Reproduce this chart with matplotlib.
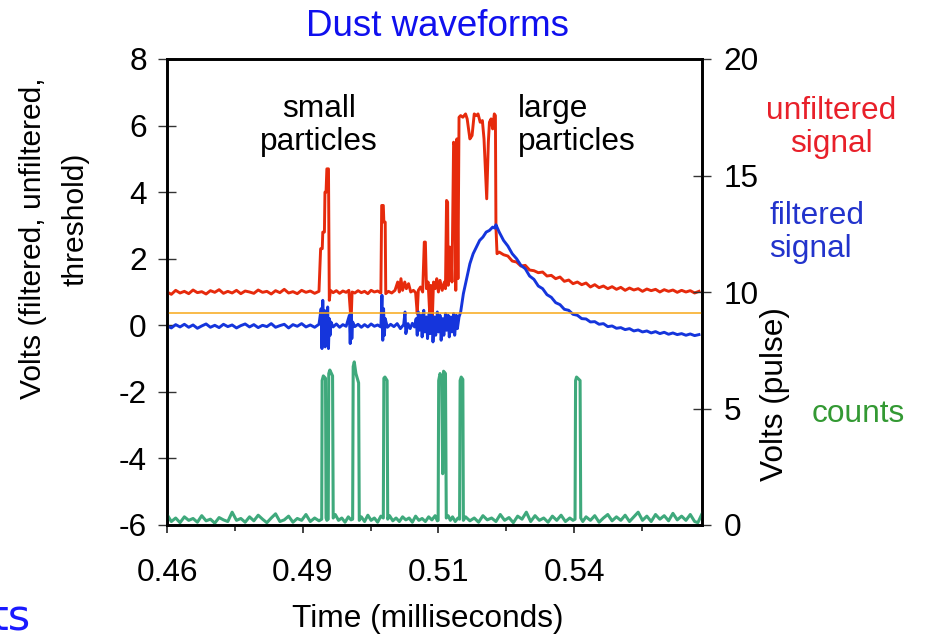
import matplotlib
matplotlib.use("Agg")
import matplotlib.pyplot as plt

plt.rcParams['font.family'] = ['Liberation Sans', 'DejaVu Sans']
plt.rcParams['axes.unicode_minus'] = False

# ---------------- data (time in ms) ----------------
base_t = [0.4600, 0.4608, 0.4616, 0.4624, 0.4632, 0.4640, 0.4648, 0.4656, 0.4664, 0.4672,
          0.4680, 0.4688, 0.4696, 0.4704, 0.4712, 0.4720, 0.4728, 0.4736, 0.4744, 0.4752,
          0.4760, 0.4768, 0.4776, 0.4784, 0.4792, 0.4800, 0.4808, 0.4816, 0.4824, 0.4832,
          0.4840, 0.4848, 0.4856, 0.4864, 0.4872, 0.4880]
tail_t = [0.5212, 0.5220, 0.5228, 0.5236, 0.5244, 0.5252, 0.5260, 0.5268, 0.5276, 0.5284,
          0.5292, 0.5300, 0.5308, 0.5316, 0.5324, 0.5332, 0.5340, 0.5348, 0.5356, 0.5364,
          0.5372, 0.5380, 0.5388, 0.5396, 0.5404, 0.5412, 0.5420, 0.5428, 0.5436, 0.5444,
          0.5452, 0.5460, 0.5468, 0.5476, 0.5484, 0.5492, 0.5500, 0.5508, 0.5516, 0.5524,
          0.5532, 0.5540, 0.5548, 0.5556, 0.5564, 0.5572, 0.5580]

# unfiltered signal (left axis, volts)
red_t = base_t + [
    0.48830, 0.48860, 0.48870, 0.48900, 0.48910, 0.48930, 0.48945, 0.48975, 0.48990, 0.49010,
    0.4906, 0.4912, 0.4918, 0.4924, 0.4930, 0.4935, 0.49385, 0.49395, 0.4941, 0.4946,
    0.4952, 0.4958, 0.4964, 0.4970, 0.4976, 0.4982, 0.4988, 0.4994,
    0.49955, 0.49985, 0.49995, 0.50020, 0.50030, 0.5008, 0.5014, 0.5020,
    0.5025, 0.5028, 0.5031, 0.5034, 0.5038, 0.5041, 0.5045, 0.5049, 0.5054, 0.5058,
    0.5061, 0.5063, 0.5067, 0.5071, 0.5074, 0.5076, 0.5078, 0.5081,
    0.5084, 0.5086, 0.5089, 0.5091, 0.5094, 0.5097, 0.5100, 0.5103, 0.5107, 0.5111, 0.5113,
    0.5115, 0.5117, 0.5118, 0.5121, 0.5123, 0.5125,
    0.5128, 0.5130, 0.5132, 0.5134, 0.5136, 0.5138,
    0.5141, 0.5145, 0.5150, 0.5153, 0.5158, 0.5162, 0.5166, 0.5170, 0.5173, 0.5177,
    0.5181, 0.5184, 0.5187, 0.5189, 0.5192, 0.5194, 0.5197, 0.5200, 0.5203, 0.5205,
    0.5206, 0.5208] + tail_t
red_v = [1.00, 0.93, 1.05, 0.97, 1.02, 0.95, 1.06, 0.98, 1.01, 0.94,
         1.04, 0.99, 1.07, 0.96, 1.02, 0.97, 1.05, 0.95, 1.03, 1.00,
         0.96, 1.06, 0.99, 1.02, 0.94, 1.04, 0.98, 1.08, 0.97, 1.01,
         0.95, 1.05, 0.99, 1.03, 0.96, 1.02,
         2.3, 2.3, 2.8, 2.8, 4.0, 4.0, 4.7, 4.7, 0.75, 1.05,
         0.98, 1.04, 0.96, 1.03, 0.99, 1.05, 0.25, 0.30, 1.00, 0.97,
         1.04, 0.98, 1.02, 0.95, 1.05, 1.00, 1.03, 0.97,
         3.6, 3.6, 3.1, 3.1, 0.95, 1.02, 0.97, 1.05,
         1.3, 1.0, 1.4, 1.05, 1.3, 1.1, 1.25, 1.0, 1.05, 0.98,
         0.35, 1.05, 1.15, 1.0, 2.5, 2.5, 1.1, 1.3,
         0.35, 1.2, 0.3, 1.3, 1.1, 1.4, 1.0, 1.35, 1.05, 1.3, 1.1,
         3.75, 3.7, 1.2, 2.35, 2.3, 1.3,
         5.5, 5.4, 1.05, 5.6, 1.4, 6.25,
         6.3, 6.25, 6.35, 6.2, 5.6, 5.7, 6.35, 6.3, 6.35, 6.1,
         6.15, 5.6, 4.5, 3.8, 5.5, 6.1, 6.2, 5.9, 6.35, 6.3,
         2.95, 2.15,
         2.20, 2.12, 2.08, 1.93, 1.90, 1.78, 1.80, 1.66, 1.64, 1.58,
         1.60, 1.48, 1.50, 1.40, 1.45, 1.32, 1.36, 1.25, 1.30, 1.22,
         1.27, 1.15, 1.22, 1.13, 1.18, 1.10, 1.16, 1.08, 1.14, 1.05,
         1.12, 1.06, 1.10, 1.02, 1.09, 1.04, 1.08, 1.00, 1.07, 1.02,
         1.06, 0.99, 1.05, 1.00, 1.04, 0.97, 1.02]

# filtered signal (left axis, volts)
blue_t = base_t + [
    0.48840, 0.48855, 0.48870, 0.48885, 0.48900, 0.48915, 0.48930, 0.48945, 0.48960, 0.48975,
    0.48990, 0.49005, 0.4902, 0.4906, 0.4912, 0.4918, 0.4924, 0.4930,
    0.4936, 0.49375, 0.4939, 0.49405, 0.4942, 0.4946, 0.4952, 0.4958, 0.4964, 0.4970,
    0.4976, 0.4982, 0.4988, 0.4994,
    0.49960, 0.49975, 0.49990, 0.50005, 0.5002, 0.5006, 0.5012, 0.5018, 0.5024,
    0.5030, 0.5036, 0.50385, 0.5040, 0.5044, 0.5048, 0.5052, 0.5056,
    0.5059, 0.5061, 0.5063, 0.5065, 0.5068, 0.5070, 0.5073, 0.5075, 0.5078, 0.5080,
    0.5083, 0.5085, 0.5088, 0.5090, 0.5093, 0.5095, 0.5098, 0.5100, 0.5103, 0.5105,
    0.5108, 0.5110, 0.5113, 0.5115, 0.5118, 0.5120, 0.5123, 0.5125, 0.5128, 0.5130,
    0.5133, 0.5135, 0.5138,
    0.5141, 0.5146, 0.5152, 0.5158, 0.5164, 0.5170, 0.5176, 0.5182, 0.5188, 0.5194,
    0.5200, 0.5204, 0.5206] + tail_t
blue_v = [-0.02, -0.08, 0.02, -0.05, 0.03, -0.06, 0.01, -0.09, -0.02, 0.04,
          -0.06, 0.00, -0.07, 0.03, -0.04, 0.01, -0.08, -0.01, 0.04, -0.05,
          0.02, -0.07, 0.00, -0.04, 0.05, -0.06, -0.01, 0.03, -0.08, 0.02,
          -0.03, 0.05, -0.05, 0.01, -0.06, 0.03,
          0.5, -0.7, 0.75, -0.6, 0.45, -0.65, 0.3, -0.5, 0.55, -0.7,
          0.2, -0.3, 0.1, -0.05, 0.04, -0.06, 0.02, -0.03,
          0.3, -0.55, 0.35, -0.4, 0.1, -0.04, 0.03, -0.06, 0.02, -0.05,
          0.04, -0.03, 0.01, -0.05,
          0.9, -0.45, 0.5, -0.3, 0.2, -0.06, 0.03, -0.04, 0.05,
          -0.1, 0.02, 0.4, -0.25, 0.05, -0.1, 0.06, -0.05,
          0.2, -0.3, 0.4, -0.15, 0.3, -0.35, 0.45, -0.2, 0.25, -0.4,
          0.35, -0.25, 0.3, -0.5, 0.25, -0.3, 0.4, -0.2, 0.3, -0.45,
          0.2, -0.3, 0.35, -0.15, 0.3, -0.35, 0.25, -0.2, 0.35, -0.3,
          0.3, -0.1, 0.25,
          0.40, 0.95, 1.40, 1.85, 2.15, 2.35, 2.55, 2.65, 2.80, 2.85,
          2.95, 2.92, 3.02,
          2.80, 2.55, 2.38, 2.15, 2.00, 1.80, 1.70, 1.48, 1.38, 1.18,
          1.10, 0.92, 0.84, 0.68, 0.62, 0.48, 0.45, 0.33, 0.30, 0.20,
          0.19, 0.10, 0.11, 0.03, 0.05, -0.04, -0.02, -0.09, -0.07, -0.13,
          -0.10, -0.17, -0.14, -0.20, -0.17, -0.23, -0.19, -0.25, -0.21, -0.27,
          -0.23, -0.28, -0.25, -0.30, -0.26, -0.31, -0.28]

# threshold (left axis, volts)
threshold = 0.37

# counts (right axis, pulse volts)
green_t = base_t + [
    0.48850, 0.48858, 0.48880, 0.48920, 0.48930, 0.48945,
    0.48970, 0.48980, 0.49000, 0.49050, 0.49062,
    0.4910, 0.4916, 0.4922, 0.4928, 0.4934, 0.4939,
    0.49420, 0.49430, 0.49450, 0.49480, 0.49530, 0.49542,
    0.4958, 0.4964, 0.4970, 0.4976, 0.4982, 0.4988, 0.4994,
    0.49985, 0.49995, 0.50015, 0.50055, 0.50066,
    0.5010, 0.5016, 0.5022, 0.5028, 0.5034, 0.5040, 0.5046, 0.5052, 0.5058, 0.5064,
    0.5070, 0.5076, 0.5082, 0.5088, 0.5094, 0.5098,
    0.50995, 0.51005, 0.51030, 0.51060, 0.51079, 0.51095, 0.51130, 0.51145,
    0.5118, 0.5122, 0.5126, 0.5131, 0.5136,
    0.51390, 0.51400, 0.51420, 0.51450, 0.51460,
    0.5150, 0.5158, 0.5166, 0.5174, 0.5182, 0.5190, 0.5198, 0.5206, 0.5214, 0.5222,
    0.5230, 0.5238, 0.5246, 0.5254, 0.5262, 0.5270, 0.5278, 0.5286, 0.5294, 0.5302,
    0.5310, 0.5318, 0.5326, 0.5334, 0.5342, 0.5348,
    0.53517, 0.53527, 0.53545, 0.53610, 0.53622,
    0.5366, 0.5372, 0.5380, 0.5388, 0.5396, 0.5404, 0.5412, 0.5420, 0.5428, 0.5436,
    0.5444, 0.5452, 0.5460, 0.5468, 0.5476, 0.5484, 0.5492, 0.5500, 0.5508, 0.5516,
    0.5524, 0.5532, 0.5540, 0.5548, 0.5556, 0.5564, 0.5572, 0.5578, 0.5586]
green_v = [0.45, 0.15, 0.30, 0.10, 0.35, 0.20, 0.28, 0.12, 0.40, 0.18,
           0.25, 0.08, 0.32, 0.22, 0.15, 0.55, 0.20, 0.28, 0.12, 0.35,
           0.18, 0.42, 0.25, 0.10, 0.30, 0.48, 0.15, 0.22, 0.38, 0.12,
           0.28, 0.20, 0.45, 0.15, 0.30, 0.18,
           0.25, 6.2, 6.4, 6.3, 0.3, 0.2,
           0.25, 6.5, 6.65, 6.4, 0.3,
           0.45, 0.2, 0.3, 0.12, 0.35, 0.22,
           0.25, 6.8, 7.0, 6.5, 6.1, 0.2,
           0.35, 0.15, 0.42, 0.2, 0.3, 0.12, 0.38,
           0.3, 6.3, 6.35, 6.2, 0.25,
           0.4, 0.18, 0.3, 0.15, 0.35, 0.22, 0.3, 0.12, 0.38, 0.2,
           0.28, 0.15, 0.35, 0.22, 0.4, 0.18,
           0.2, 6.2, 6.5, 6.3, 2.2, 6.6, 6.5, 0.3,
           0.4, 0.2, 0.35, 0.15, 0.3,
           0.25, 6.2, 6.35, 6.25, 0.2,
           0.35, 0.18, 0.3, 0.12, 0.4, 0.22, 0.3, 0.15, 0.45, 0.2,
           0.32, 0.1, 0.38, 0.25, 0.55, 0.15, 0.4, 0.2, 0.3, 0.12,
           0.38, 0.2, 0.42, 0.15, 0.3, 0.2,
           0.25, 6.2, 6.35, 6.2, 0.3,
           0.15, 0.35, 0.2, 0.4, 0.12, 0.3, 0.45, 0.18, 0.35, 0.2,
           0.42, 0.15, 0.35, 0.55, 0.2, 0.38, 0.15, 0.45, 0.25, 0.4,
           0.18, 0.5, 0.22, 0.38, 0.2, 0.45, 0.15, 0.1, 0.5]

assert len(red_t) == len(red_v), (len(red_t), len(red_v))
assert len(blue_t) == len(blue_v), (len(blue_t), len(blue_v))
assert len(green_t) == len(green_v), (len(green_t), len(green_v))

x_ticks = [0.46, 0.485, 0.51, 0.535]
x_tick_labels = ['0.46', '0.49', '0.51', '0.54']
x_minor = [0.4725, 0.4975, 0.5225, 0.5475]
left_ticks = [-6, -4, -2, 0, 2, 4, 6, 8]
right_ticks = [0, 5, 10, 15, 20]

# ---------------- figure ----------------
W, H = 926, 634
fig = plt.figure(figsize=(W / 100, H / 100), dpi=100)
fig.patch.set_facecolor('white')

def fx(px):
    return px / W

def fy(py):
    return 1 - py / H

L, R, T, B = 167, 702, 59, 525
ax = fig.add_axes([fx(L), fy(B), (R - L) / W, (B - T) / H])
ax2 = ax.twinx()

RED = '#e62a0c'
BLUE = '#1535dc'
GREEN = '#3fa97c'
ORANGE = '#f8a818'

ax.plot(red_t, red_v, color=RED, lw=2.1, zorder=3)
ax.plot(blue_t, blue_v, color=BLUE, lw=2.1, zorder=4)
ax.axhline(threshold, color=ORANGE, lw=1.1, zorder=5)
ax2.plot(green_t, green_v, color=GREEN, lw=2.2)

ax.set_xlim(0.46, 0.55856)
ax.set_ylim(-6, 8)
ax2.set_ylim(0, 20)

FS = 22.8
ax.set_xticks(x_ticks)
ax.set_xticklabels(x_tick_labels)
ax.set_xticks(x_minor, minor=True)
ax.tick_params(axis='x', which='major', direction='out', length=6, width=1.2,
               pad=18, labelsize=FS, color='#222222')
ax.tick_params(axis='x', which='minor', direction='out', length=4, width=1.2,
               color='#222222')
ax.set_yticks(left_ticks)
ax.set_yticklabels([str(v) for v in left_ticks])
ax.tick_params(axis='y', direction='inout', length=13, width=1.0, pad=8,
               labelsize=FS, color='#333333')
ax2.set_yticks(right_ticks)
ax2.set_yticklabels([str(v) for v in right_ticks])
ax2.tick_params(axis='y', direction='inout', length=13, width=1.0, pad=9,
                labelsize=FS, color='#333333')

for a in (ax, ax2):
    for sp in a.spines.values():
        sp.set_linewidth(1.9)
        sp.set_color('black')

# axis labels
ax.set_xlabel('Time (milliseconds)', fontsize=FS, va='baseline')
ax.xaxis.set_label_coords((428 - L) / (R - L), (B - 627) / (B - T))
ax.set_ylabel('Volts (filtered, unfiltered,', fontsize=21.6,
              va='center', ha='center')
ax.yaxis.set_label_coords((33 - L) / (R - L), (B - 238) / (B - T))
fig.text(fx(76), fy(219), 'threshold)', fontsize=21.6, rotation=90,
         ha='center', va='center')
ax2.set_ylabel('Volts (pulse)', fontsize=FS, rotation=90, va='center', ha='center')
ax2.yaxis.set_label_coords((775 - L) / (R - L), (B - 394) / (B - T))

# title and annotations (va='baseline' aligns the last line's baseline)
fig.text(fx(438), fy(36), 'Dust waveforms', color='#1010ee', fontsize=26.5,
         ha='center', va='baseline')
fig.text(fx(319), fy(150), 'small\nparticles', fontsize=FS, ha='center',
         va='baseline', linespacing=1.15, multialignment='center')
fig.text(fx(518), fy(150), 'large\nparticles', fontsize=FS, ha='left',
         va='baseline', linespacing=1.15)
fig.text(fx(831), fy(152), 'unfiltered\nsignal', fontsize=FS, color='#e8202a',
         ha='center', va='baseline', linespacing=1.15, multialignment='center')
fig.text(fx(769), fy(257), 'filtered\nsignal', fontsize=FS, color='#2233cc',
         ha='left', va='baseline', linespacing=1.15)
fig.text(fx(812), fy(422), 'counts', fontsize=FS, color='#339933',
         ha='left', va='baseline')
fig.text(fx(31), fy(630), 'ts', fontsize=31, color='#1a1aff',
         family=['DejaVu Sans'], ha='right', va='baseline')

fig.savefig('out.png', dpi=100)
